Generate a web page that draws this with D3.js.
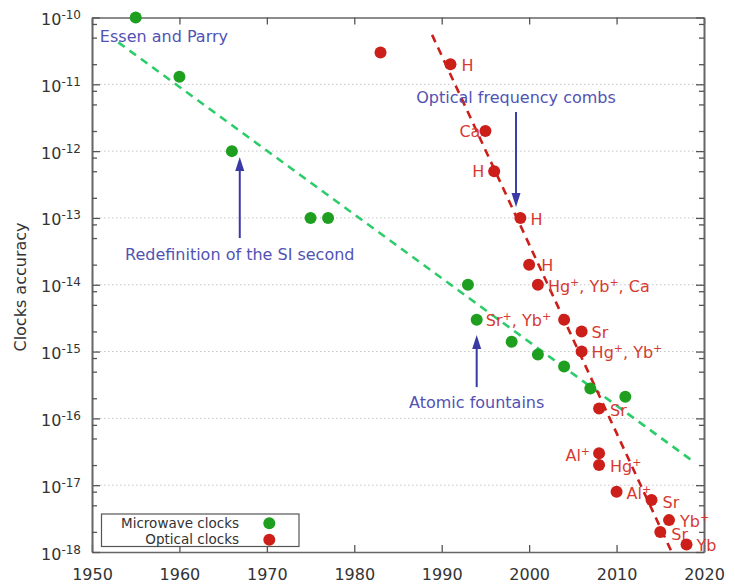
<!DOCTYPE html>
<html><head><meta charset="utf-8">
<script src="https://cdn.jsdelivr.net/npm/d3@7"></script>
<style>
body{margin:0;background:#fff}
svg{display:block;font-family:"DejaVu Sans",sans-serif}
</style>
</head><body>
<svg id="c" width="735" height="585"></svg>
<script>
// ---------- data ----------
const xTickYears = [1950,1960,1970,1980,1990,2000,2010,2020];
const yExponents = [-18,-17,-16,-15,-14,-13,-12,-11,-10];
const minorMantissas = [2,5,8];

const microwaveYears = [1955,1960,1966,1975,1977,1993,1994,1998,2001,2004,2007,2011];
const microwaveAcc   = [1e-10,1.3e-11,1e-12,1e-13,1e-13,1e-14,3e-15,1.4e-15,9e-16,6e-16,2.8e-16,2.1e-16];

const opticalYears = [1983,1991,1995,1996,1999,2000,2001,2004,2006,2006,2008,2008,2008,2010,2014,2016,2015,2018];
const opticalAcc   = [3e-11,2e-11,2e-12,5e-13,1e-13,2e-14,1e-14,3e-15,2e-15,1e-15,1.4e-16,3e-17,2e-17,8e-18,6e-18,3e-18,2e-18,1.3e-18];
const opticalLabels = ["","H","Ca","H","H","H","Hg+, Yb+, Ca","Sr+, Yb+","Sr","Hg+, Yb+","Sr","Al+","Hg+","Al+","Sr","Yb+","Sr","Yb"];

const microwaveTrendYears = [1953,2018.7];
const microwaveTrendAcc   = [4.25e-11,2.3e-17];
const opticalTrendYears   = [1988.9,2016.3];
const opticalTrendAcc     = [5.5e-11,1e-18];

const annotationTexts = ["Essen and Parry","Optical frequency combs","Redefinition of the SI second","Atomic fountains"];
const annotationYears = [1950.9,1998.5,1966.9,1994];
const annotationAcc   = [5.3e-11,6.5e-12,2.9e-14,1.77e-16];
const annotationAnchor= ["start","middle","middle","middle"];

const arrowYears   = [1998.5,1966.9,1994];
const arrowFromAcc = [3.85e-12,5e-14,2.94e-16];
const arrowToAcc   = [1.46e-13,8.2e-13,1.77e-15];

const legendNames = ["Microwave clocks","Optical clocks"];

// label layout (pixel offsets from point), kept separate from data
const labelLayout = [
  null,[11,1,"start"],[-5,0,"end"],[-10,0,"end"],[10,1,"start"],[12,1,"start"],
  [10,1,"start"],[-13,1,"end"],[10,1,"start"],[10,1,"start"],[11,2,"start"],
  [-9,2,"end"],[11,1,"start"],[10,2,"start"],[11,2,"start"],[11,1,"start"],
  [11,2,"start"],[10,1,"start"]
];

// ---------- style ----------
const GREEN="#1f9f1f", GREEN_LINE="#2dcc6a", RED="#cc1f1a", RED_TXT="#d63a30";
const BLUE_TXT="#5252b4", BLUE_ARROW="#3a3aa6", AXIS="#666", TXT="#333";
const L=92,R=704,T=17.5,B=552;

const svg=d3.select("#c");
const x=d3.scaleLinear().domain([1950,2020]).range([L,R]);
const y=d3.scaleLog().domain([1e-18,1e-10]).range([B,T]);

// grid
const gridVals=yExponents.slice(1,-1).map(e=>Math.pow(10,e));
svg.append("g").selectAll("line").data(gridVals).join("line")
  .attr("x1",L).attr("x2",R).attr("y1",d=>y(d)).attr("y2",d=>y(d))
  .attr("stroke","#c4c4c4").attr("stroke-width",1).attr("stroke-dasharray","1.5,2.5");

// axes
const majors=yExponents.map(e=>Math.pow(10,e));
const minors=[];
yExponents.slice(0,-1).forEach(e=>minorMantissas.forEach(mm=>minors.push(mm*Math.pow(10,e))));

function styleAxis(g){
  g.select(".domain").attr("stroke",AXIS).attr("stroke-width",1.6);
  g.selectAll(".tick line").attr("stroke","#555").attr("stroke-width",1.3);
  g.selectAll("text").attr("fill",TXT);
}
const gb=svg.append("g").attr("transform",`translate(0,${B})`)
  .call(d3.axisBottom(x).tickValues(xTickYears).tickSize(-7).tickSizeOuter(0).tickPadding(16.6).tickFormat(d3.format("d")));
gb.selectAll("text").attr("font-size",16).attr("font-family","DejaVu Sans");
styleAxis(gb);
const gt=svg.append("g").attr("transform",`translate(0,${T})`)
  .call(d3.axisTop(x).tickValues(xTickYears).tickSize(-7).tickSizeOuter(0).tickFormat(""));
styleAxis(gt);
const gl=svg.append("g").attr("transform",`translate(${L},0)`)
  .call(d3.axisLeft(y).tickValues(majors).tickSize(-8).tickSizeOuter(0).tickFormat(""));
styleAxis(gl);
const glm=svg.append("g").attr("transform",`translate(${L},0)`)
  .call(d3.axisLeft(y).tickValues(minors).tickSize(-5).tickSizeOuter(0).tickFormat(""));
styleAxis(glm);
const gr=svg.append("g").attr("transform",`translate(${R},0)`)
  .call(d3.axisRight(y).tickValues(majors).tickSize(-8).tickSizeOuter(0).tickFormat(""));
styleAxis(gr);
const grm=svg.append("g").attr("transform",`translate(${R},0)`)
  .call(d3.axisRight(y).tickValues(minors).tickSize(-5).tickSizeOuter(0).tickFormat(""));
styleAxis(grm);

// y tick labels with superscripts
const yl=svg.append("g").selectAll("text").data(yExponents).join("text")
  .attr("x",81).attr("y",e=>y(Math.pow(10,e))+7.5).attr("text-anchor","end")
  .attr("fill",TXT).attr("font-size",16);
yl.append("tspan").text("10");
yl.append("tspan").attr("font-size",12).attr("dy",-6).text(e=>"-"+Math.abs(e));

// y axis title
svg.append("text").attr("transform",`translate(26,287) rotate(-90)`)
  .attr("text-anchor","middle").attr("fill",TXT).attr("font-size",16).text("Clocks accuracy");

// trend lines
const line=d3.line().x(d=>x(d[0])).y(d=>y(d[1]));
svg.append("path").datum(microwaveTrendYears.map((v,i)=>[v,microwaveTrendAcc[i]]))
  .attr("d",line).attr("fill","none").attr("stroke",GREEN_LINE).attr("stroke-width",2.6).attr("stroke-dasharray","8,6");
svg.append("path").datum(opticalTrendYears.map((v,i)=>[v,opticalTrendAcc[i]]))
  .attr("d",line).attr("fill","none").attr("stroke",RED).attr("stroke-width",2.6).attr("stroke-dasharray","8,6");

// optical labels (behind points)
function richText(sel,str){
  const parts=str.split(/(\+)/).filter(s=>s.length);
  let raised=false;
  parts.forEach(p=>{
    if(p==="+"){ sel.append("tspan").attr("font-size",11).attr("dy",-6).text("+"); raised=true; }
    else { const t=sel.append("tspan").text(p); if(raised){t.attr("dy",6);raised=false;} }
  });
}
opticalLabels.forEach((lab,i)=>{
  if(!lab) return;
  const lay=labelLayout[i];
  const t=svg.append("text").attr("x",x(opticalYears[i])+lay[0]).attr("y",y(opticalAcc[i])+lay[1])
    .attr("dy","0.36em").attr("text-anchor",lay[2]).attr("fill",RED_TXT).attr("font-size",16);
  richText(t,lab);
});

// points
svg.append("g").selectAll("circle").data(microwaveYears).join("circle")
  .attr("cx",d=>x(d)).attr("cy",(d,i)=>y(microwaveAcc[i])).attr("r",6).attr("fill",GREEN);
svg.append("g").selectAll("circle").data(opticalYears).join("circle")
  .attr("cx",d=>x(d)).attr("cy",(d,i)=>y(opticalAcc[i])).attr("r",6).attr("fill",RED);

// annotations
annotationTexts.forEach((s,i)=>{
  svg.append("text").attr("x",x(annotationYears[i])).attr("y",y(annotationAcc[i])).attr("dy","0.36em")
    .attr("text-anchor",annotationAnchor[i]).attr("fill",BLUE_TXT).attr("font-size",16).text(s);
});
arrowYears.forEach((yr,i)=>{
  const ax=x(yr), y0=y(arrowFromAcc[i]), y1=y(arrowToAcc[i]);
  const dir=y1<y0?1:-1; // 1: pointing up
  const head=14, hw=4.5;
  svg.append("line").attr("x1",ax).attr("x2",ax).attr("y1",y0).attr("y2",y1+dir*head*0.8)
    .attr("stroke",BLUE_ARROW).attr("stroke-width",2);
  svg.append("path").attr("d",`M${ax},${y1} L${ax-hw},${y1+dir*head} L${ax+hw},${y1+dir*head} Z`)
    .attr("fill",BLUE_ARROW);
});

// legend
const lg=svg.append("g");
lg.append("rect").attr("x",101.5).attr("y",514).attr("width",197.5).attr("height",32.5)
  .attr("fill","#fff").attr("stroke","#555").attr("stroke-width",1.2);
[GREEN,RED].forEach((c,i)=>{
  lg.append("text").attr("x",239).attr("y",523.3+i*16).attr("dy","0.36em").attr("text-anchor","end")
    .attr("fill",TXT).attr("font-size",13.5).text(legendNames[i]);
  lg.append("circle").attr("cx",269.3).attr("cy",523.3+i*16.5).attr("r",6).attr("fill",c);
});
</script>
</body></html>
